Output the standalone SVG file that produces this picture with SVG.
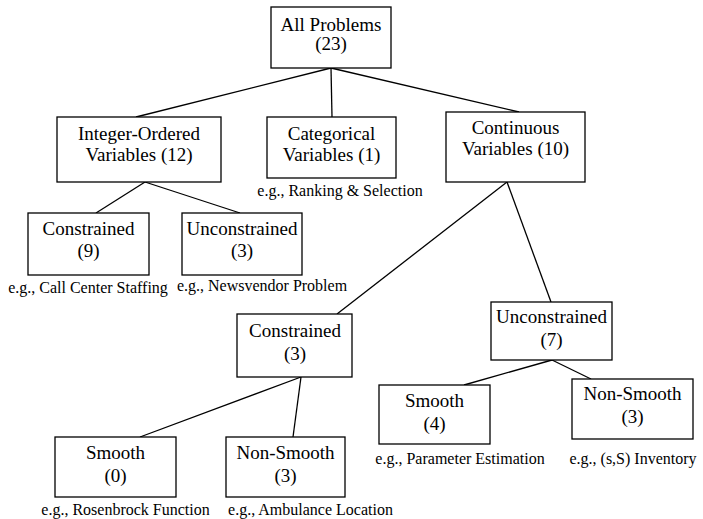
<svg xmlns="http://www.w3.org/2000/svg" width="703" height="519" viewBox="0 0 703 519">
<defs>
<rect id="boxstyle" width="0" height="0" fill="#fff" stroke="#000" stroke-width="1.3"/>
</defs>
<rect width="703" height="519" fill="#fff"/>
<g id="connectors" stroke="#000" stroke-width="1.3">
<line x1="331" y1="68" x2="136" y2="117"/>
<line x1="331" y1="68" x2="332" y2="117"/>
<line x1="331" y1="68" x2="519" y2="112"/>
<line x1="145" y1="182" x2="96" y2="213"/>
<line x1="145" y1="182" x2="240" y2="213"/>
<line x1="507" y1="182" x2="337" y2="314"/>
<line x1="507" y1="182" x2="551" y2="302"/>
<line x1="301" y1="377" x2="140" y2="437"/>
<line x1="301" y1="377" x2="293" y2="437"/>
<line x1="552" y1="360" x2="464" y2="385"/>
<line x1="552" y1="360" x2="591" y2="379"/>
</g>
<g fill="#fff" stroke="#000" stroke-width="1.3">
<rect id="box-all" x="271" y="7" width="120" height="61"/>
<rect id="box-integer" x="57" y="117" width="164" height="65"/>
<rect id="box-categorical" x="267" y="117" width="129" height="61"/>
<rect id="box-continuous" x="446" y="112" width="139" height="70"/>
<rect id="box-int-constrained" x="28" y="213" width="121" height="62"/>
<rect id="box-int-unconstrained" x="182" y="213" width="120" height="62"/>
<rect id="box-cont-constrained" x="237" y="314" width="115" height="63"/>
<rect id="box-cont-unconstrained" x="491" y="302" width="121" height="58"/>
<rect id="box-c-smooth" x="55" y="437" width="121" height="60"/>
<rect id="box-c-nonsmooth" x="226" y="437" width="119" height="60"/>
<rect id="box-u-smooth" x="379" y="385" width="111" height="59"/>
<rect id="box-u-nonsmooth" x="572" y="379" width="121" height="60"/>
</g>
<g id="all">
<text font-family="Liberation Serif" font-size="19" text-anchor="middle" x="331" y="31">All Problems</text>
<text font-family="Liberation Serif" font-size="19" text-anchor="middle" x="331" y="50">(23)</text>
</g>
<g id="integer">
<text font-family="Liberation Serif" font-size="19" text-anchor="middle" x="139" y="140">Integer-Ordered</text>
<text font-family="Liberation Serif" font-size="19" text-anchor="middle" x="139" y="161">Variables (12)</text>
</g>
<g id="categorical">
<text font-family="Liberation Serif" font-size="19" text-anchor="middle" x="331.5" y="140">Categorical</text>
<text font-family="Liberation Serif" font-size="19" text-anchor="middle" x="331.5" y="161">Variables (1)</text>
<text font-family="Liberation Serif" font-size="16" text-anchor="middle" x="340" y="196">e.g., Ranking &amp; Selection</text>
</g>
<g id="continuous">
<text font-family="Liberation Serif" font-size="19" text-anchor="middle" x="515.5" y="134">Continuous</text>
<text font-family="Liberation Serif" font-size="19" text-anchor="middle" x="515.5" y="155">Variables (10)</text>
</g>
<g id="int-constrained">
<text font-family="Liberation Serif" font-size="19" text-anchor="middle" x="88.5" y="235">Constrained</text>
<text font-family="Liberation Serif" font-size="19" text-anchor="middle" x="88.5" y="257">(9)</text>
<text font-family="Liberation Serif" font-size="16" text-anchor="middle" x="88" y="293">e.g., Call Center Staffing</text>
</g>
<g id="int-unconstrained">
<text font-family="Liberation Serif" font-size="19" text-anchor="middle" x="242" y="235">Unconstrained</text>
<text font-family="Liberation Serif" font-size="19" text-anchor="middle" x="242" y="257">(3)</text>
<text font-family="Liberation Serif" font-size="16" text-anchor="middle" x="262" y="291">e.g., Newsvendor Problem</text>
</g>
<g id="cont-constrained">
<text font-family="Liberation Serif" font-size="19" text-anchor="middle" x="295" y="337">Constrained</text>
<text font-family="Liberation Serif" font-size="19" text-anchor="middle" x="295" y="360">(3)</text>
</g>
<g id="cont-unconstrained">
<text font-family="Liberation Serif" font-size="19" text-anchor="middle" x="551.5" y="323">Unconstrained</text>
<text font-family="Liberation Serif" font-size="19" text-anchor="middle" x="551.5" y="346">(7)</text>
</g>
<g id="c-smooth">
<text font-family="Liberation Serif" font-size="19" text-anchor="middle" x="115.5" y="459">Smooth</text>
<text font-family="Liberation Serif" font-size="19" text-anchor="middle" x="115.5" y="482">(0)</text>
<text font-family="Liberation Serif" font-size="16" text-anchor="middle" x="125.5" y="515">e.g., Rosenbrock Function</text>
</g>
<g id="c-nonsmooth">
<text font-family="Liberation Serif" font-size="19" text-anchor="middle" x="285.5" y="459">Non-Smooth</text>
<text font-family="Liberation Serif" font-size="19" text-anchor="middle" x="285.5" y="482">(3)</text>
<text font-family="Liberation Serif" font-size="16" text-anchor="middle" x="310.5" y="515">e.g., Ambulance Location</text>
</g>
<g id="u-smooth">
<text font-family="Liberation Serif" font-size="19" text-anchor="middle" x="434.5" y="407">Smooth</text>
<text font-family="Liberation Serif" font-size="19" text-anchor="middle" x="434.5" y="430">(4)</text>
<text font-family="Liberation Serif" font-size="16" text-anchor="middle" x="460" y="464">e.g., Parameter Estimation</text>
</g>
<g id="u-nonsmooth">
<text font-family="Liberation Serif" font-size="19" text-anchor="middle" x="632.5" y="400">Non-Smooth</text>
<text font-family="Liberation Serif" font-size="19" text-anchor="middle" x="632.5" y="423">(3)</text>
<text font-family="Liberation Serif" font-size="16" text-anchor="middle" x="633" y="464">e.g., (s,S) Inventory</text>
</g>
</svg>
